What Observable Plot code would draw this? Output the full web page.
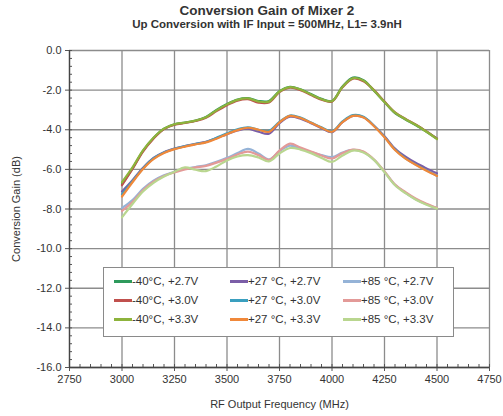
<!DOCTYPE html>
<html>
<head>
<meta charset="utf-8">
<script src="https://cdn.jsdelivr.net/npm/d3@7"></script>
<script src="https://cdn.jsdelivr.net/npm/@observablehq/plot@0.6"></script>
<style>
  html, body { margin: 0; padding: 0; background: #fff; }
  #wrap { position: relative; width: 503px; height: 416px; font-family: "Liberation Sans", Arial, sans-serif; color: #222; }
  #title { position: absolute; left: 0; width: 534px; top: 3px; text-align: center; font-weight: bold; font-size: 13.5px; color: #333; }
  #subtitle { position: absolute; left: 0; width: 534px; top: 18px; text-align: center; font-weight: bold; font-size: 11.5px; color: #333; }
  #legend { position: absolute; left: 103px; top: 267px; width: 351px; height: 70px; border: 1px solid #8a8a8a; background: #fff; box-sizing: border-box; }
  .item { position: absolute; display: flex; align-items: center; font-size: 11.5px; color: #333; white-space: nowrap; }
  .sw { width: 18px; height: 3px; }
</style>
</head>
<body>
<div id="wrap">
  <div id="chart"></div>
  <div id="title">Conversion Gain of Mixer 2</div>
  <div id="subtitle">Up Conversion with IF Input = 500MHz, L1= 3.9nH</div>
  <div id="legend"></div>
</div>
<script>
const freq = [3000,3050,3100,3150,3200,3250,3300,3350,3400,3450,3500,3550,3600,3650,3700,3750,3800,3850,3900,3950,4000,4050,4100,4150,4200,4250,4300,4350,4400,4450,4500];

const m40_27 = [-6.75,-5.95,-5.07,-4.42,-3.95,-3.73,-3.64,-3.54,-3.36,-3.0,-2.7,-2.47,-2.4,-2.55,-2.55,-2.05,-1.83,-1.96,-2.2,-2.44,-2.55,-1.82,-1.37,-1.5,-2.03,-2.6,-3.16,-3.48,-3.77,-4.1,-4.45];
const m40_30 = [-6.8,-5.98,-5.1,-4.45,-3.97,-3.75,-3.66,-3.56,-3.4,-3.06,-2.76,-2.53,-2.46,-2.63,-2.62,-2.1,-1.88,-2.0,-2.25,-2.48,-2.58,-1.86,-1.42,-1.55,-2.0,-2.58,-3.12,-3.45,-3.74,-4.08,-4.45];
const m40_33 = [-6.65,-5.9,-5.04,-4.4,-3.94,-3.72,-3.64,-3.54,-3.37,-3.02,-2.72,-2.49,-2.42,-2.58,-2.58,-2.07,-1.85,-1.97,-2.22,-2.46,-2.56,-1.84,-1.4,-1.52,-2.02,-2.6,-3.14,-3.47,-3.76,-4.1,-4.47];
const p27_27 = [-7.12,-6.55,-5.92,-5.42,-5.13,-4.95,-4.82,-4.71,-4.61,-4.42,-4.22,-4.04,-3.95,-4.1,-4.2,-3.66,-3.34,-3.44,-3.67,-3.92,-4.12,-3.62,-3.3,-3.37,-3.8,-4.33,-4.95,-5.36,-5.68,-5.95,-6.2];
const p27_30 = [-7.25,-6.6,-5.95,-5.45,-5.15,-4.96,-4.83,-4.72,-4.62,-4.4,-4.18,-3.98,-3.88,-4.0,-4.05,-3.6,-3.28,-3.39,-3.63,-3.88,-4.08,-3.58,-3.26,-3.34,-3.8,-4.36,-5.0,-5.44,-5.76,-6.05,-6.32];
const p27_33 = [-7.37,-6.65,-5.98,-5.48,-5.17,-4.98,-4.85,-4.74,-4.64,-4.45,-4.22,-4.02,-3.9,-4.0,-4.1,-3.63,-3.3,-3.41,-3.65,-3.9,-4.1,-3.62,-3.3,-3.38,-3.82,-4.38,-5.02,-5.46,-5.78,-6.07,-6.33];
const p85_27 = [-7.95,-7.55,-6.98,-6.57,-6.3,-6.12,-5.97,-5.88,-5.79,-5.62,-5.42,-5.18,-4.97,-5.2,-5.5,-5.08,-4.8,-4.95,-5.12,-5.28,-5.38,-5.15,-5.02,-5.12,-5.52,-6.12,-6.78,-7.18,-7.52,-7.76,-7.95];
const p85_30 = [-8.1,-7.65,-7.05,-6.62,-6.33,-6.15,-6.0,-5.9,-5.82,-5.66,-5.47,-5.25,-5.1,-5.28,-5.52,-5.05,-4.7,-4.9,-5.1,-5.3,-5.45,-5.18,-5.0,-5.1,-5.5,-6.1,-6.76,-7.15,-7.48,-7.73,-7.94];
const p85_33 = [-8.42,-7.75,-7.12,-6.68,-6.36,-6.12,-5.9,-6.02,-6.09,-5.85,-5.55,-5.35,-5.28,-5.4,-5.6,-5.2,-4.92,-5.0,-5.18,-5.42,-5.62,-5.3,-5.05,-5.15,-5.52,-6.14,-6.8,-7.2,-7.53,-7.78,-7.98];

const seriesNames = ["-40°C, +2.7V","-40°C, +3.0V","-40°C, +3.3V","+27 °C, +2.7V","+27 °C, +3.0V","+27 °C, +3.3V","+85 °C, +2.7V","+85 °C, +3.0V","+85 °C, +3.3V"];
const seriesValues = [m40_27, m40_30, m40_33, p27_27, p27_30, p27_33, p85_27, p85_30, p85_33];
const seriesColors = ["#2e9a5c","#c0504d","#8db33c","#7b5ea7","#3a9fbf","#f0883a","#95b3d7","#e39a98","#b9d68f"];

const xTicks = [2750,3000,3250,3500,3750,4000,4250,4500,4750];
const xMinor = [2750,2800,2850,2900,2950,3000,3050,3100,3150,3200,3250,3300,3350,3400,3450,3500,3550,3600,3650,3700,3750,3800,3850,3900,3950,4000,4050,4100,4150,4200,4250,4300,4350,4400,4450,4500,4550,4600,4650,4700,4750];
const yTicks = [0,-2,-4,-6,-8,-10,-12,-14,-16];
const yMinor = [0,-0.4,-0.8,-1.2,-1.6,-2,-2.4,-2.8,-3.2,-3.6,-4,-4.4,-4.8,-5.2,-5.6,-6,-6.4,-6.8,-7.2,-7.6,-8,-8.4,-8.8,-9.2,-9.6,-10,-10.4,-10.8,-11.2,-11.6,-12,-12.4,-12.8,-13.2,-13.6,-14,-14.4,-14.8,-15.2,-15.6,-16];

const rows = [];
seriesNames.forEach((name, i) => {
  freq.forEach((f, j) => rows.push({series: name, freq: f, gain: seriesValues[i][j]}));
});

const plot = Plot.plot({
  width: 503,
  height: 416,
  marginLeft: 69,
  marginRight: 14,
  marginTop: 50,
  marginBottom: 49,
  style: {fontFamily: "Liberation Sans, Arial, sans-serif", fontSize: "10.5px", color: "#333", background: "#fff"},
  x: {domain: [2750, 4750]},
  y: {domain: [-16, 0]},
  color: {domain: seriesNames, range: seriesColors},
  marks: [
    Plot.gridX(xTicks, {stroke: "#8c8c8c", strokeOpacity: 1, strokeWidth: 1.3}),
    Plot.gridY(yTicks, {stroke: "#8c8c8c", strokeOpacity: 1, strokeWidth: 1.3}),
    Plot.axisX(xMinor, {tickSize: -3, tickFormat: () => "", label: null, stroke: "#555"}),
    Plot.axisY(yMinor, {tickSize: -3, tickFormat: () => "", label: null, stroke: "#555"}),
    Plot.axisX(xTicks, {tickSize: 4, tickPadding: 4, tickFormat: d => String(d), label: "RF Output Frequency (MHz)", labelAnchor: "center", labelArrow: "none", labelOffset: 40, stroke: "#555", fill: "#333", fontSize: 11}),
    Plot.axisY(yTicks, {tickSize: 4, tickPadding: 4, tickFormat: d => d.toFixed(1), label: "Conversion Gain (dB)", labelAnchor: "center", labelArrow: "none", labelOffset: 57, stroke: "#555", fill: "#333", fontSize: 11}),
    Plot.ruleX([2750], {stroke: "#444", strokeWidth: 1.3}),
    Plot.ruleY([-16], {stroke: "#444", strokeWidth: 1.3}),
    Plot.line(rows, {x: "freq", y: "gain", z: "series", stroke: "series", strokeWidth: 2.2, curve: "catmull-rom"})
  ]
});
document.getElementById("chart").appendChild(plot);

const legend = document.getElementById("legend");
const colX = [10, 126, 239];
const rowY = [13, 32, 51];
seriesNames.forEach((name, i) => {
  const col = Math.floor(i / 3), row = i % 3;
  const div = document.createElement("div");
  div.className = "item";
  div.style.left = colX[col] + "px";
  div.style.top = (rowY[row] - 8) + "px";
  div.style.height = "16px";
  const sw = document.createElement("span");
  sw.className = "sw";
  sw.style.background = seriesColors[i];
  const tx = document.createElement("span");
  tx.textContent = name;
  div.appendChild(sw);
  div.appendChild(tx);
  legend.appendChild(div);
});
</script>
</body>
</html>
